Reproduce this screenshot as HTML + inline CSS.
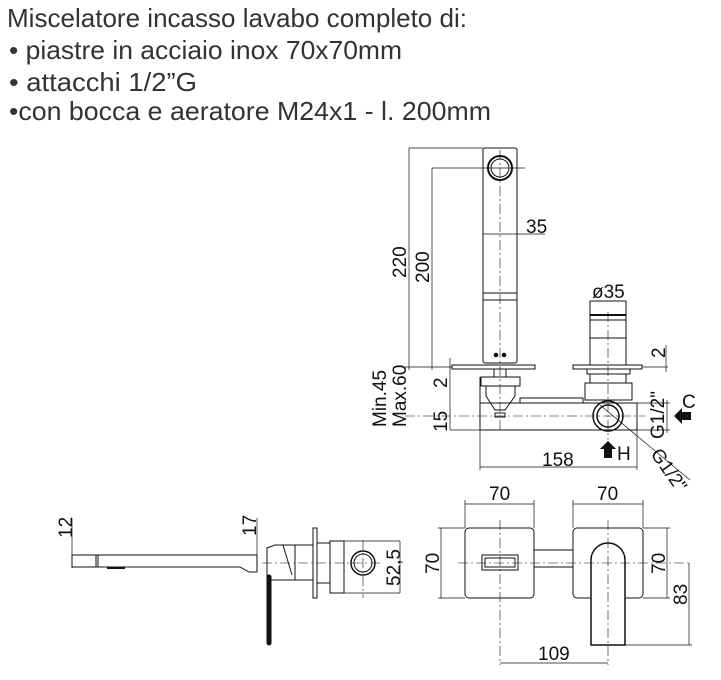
<!DOCTYPE html>
<html><head><meta charset="utf-8"><style>
body{margin:0;background:#fff;width:721px;height:680px;overflow:hidden}
svg{position:absolute;left:0;top:0}
.t{font-family:"Liberation Sans",sans-serif;font-size:26px;fill:#333}
.d{font-family:"Liberation Sans",sans-serif;font-size:19px;fill:#111}
</style></head><body>
<svg width="721" height="680" viewBox="0 0 721 680">
<text class="t" x="7" y="27" textLength="460" lengthAdjust="spacingAndGlyphs">Miscelatore incasso lavabo completo di:</text>
<text class="t" x="9" y="59" textLength="393" lengthAdjust="spacingAndGlyphs">• piastre in acciaio inox 70x70mm</text>
<text class="t" x="9" y="91" textLength="188" lengthAdjust="spacingAndGlyphs">• attacchi 1/2”G</text>
<text class="t" x="9" y="120" textLength="482" lengthAdjust="spacingAndGlyphs">•con bocca e aeratore M24x1 - l. 200mm</text>

<g stroke="#111" stroke-width="1" fill="none">
<rect x="483" y="148" width="34" height="215" rx="2"/>
<circle cx="500" cy="168" r="12" stroke-width="2"/>
<circle cx="500" cy="168" r="9"/>
<line x1="483" y1="293" x2="517" y2="293"/><line x1="483" y1="300" x2="517" y2="300"/>
<circle cx="496" cy="355" r="1.8" fill="#111"/><circle cx="504" cy="355" r="1.8" fill="#111"/>
<line x1="409" y1="148" x2="483" y2="148" stroke-width=".7"/>
<line x1="409" y1="148" x2="409" y2="370" stroke-width=".7"/>
<line x1="432" y1="168" x2="525" y2="168" stroke-width=".7"/>
<line x1="432" y1="168" x2="432" y2="370" stroke-width=".7"/>
<line x1="483" y1="234" x2="545" y2="234" stroke-width=".7"/>
<line x1="500" y1="150" x2="500" y2="430" stroke-width=".6" stroke-dasharray="10 3 2 3"/>
<line x1="405" y1="367" x2="452" y2="367" stroke-width=".7"/>
<rect x="452" y="365" width="83" height="4"/>
<rect x="573" y="365" width="69" height="4"/>
<line x1="642" y1="367" x2="668" y2="367" stroke-width=".7"/>
<line x1="450" y1="358" x2="450" y2="430" stroke-width=".7"/>
<line x1="666" y1="345" x2="666" y2="372" stroke-width=".7"/>
<rect x="494" y="369" width="12" height="8"/>
<rect x="481" y="377" width="39" height="9"/>
<path d="M486 386 L486 396 L495 410 L505 410 L515 396 L515 386"/>
<rect x="520" y="398" width="63" height="5"/>
<rect x="590" y="301" width="36" height="64"/>
<line x1="590" y1="315" x2="626" y2="315" stroke-width="2"/>
<line x1="590" y1="320" x2="626" y2="320"/>
<line x1="590" y1="338" x2="626" y2="338"/>
<line x1="590" y1="301" x2="626" y2="301" stroke-width=".7"/>
<line x1="608" y1="312" x2="608" y2="440" stroke-width=".6" stroke-dasharray="10 3 2 3"/>
<rect x="587" y="369" width="43" height="5"/>
<rect x="590" y="374" width="36" height="9"/>
<rect x="585" y="383" width="47" height="17"/>
<path d="M480 377 L480 430 L637 430 L637 403 L480 403"/>
<line x1="480" y1="403" x2="637" y2="403"/>
<line x1="405" y1="416" x2="645" y2="416" stroke-width=".6" stroke-dasharray="10 3 2 3"/>
<rect x="495" y="413" width="10" height="4"/>
<circle cx="608" cy="416" r="15" stroke-width="1.5"/>
<circle cx="608" cy="416" r="11" stroke-width="1.5"/>
<line x1="600" y1="405" x2="690" y2="480" stroke-width=".7"/>
<line x1="637" y1="403" x2="670" y2="403" stroke-width=".7"/>
<line x1="637" y1="430" x2="670" y2="430" stroke-width=".7"/>
<line x1="667" y1="400" x2="667" y2="433" stroke-width=".7"/>
<line x1="450" y1="430" x2="480" y2="430" stroke-width=".7"/>
<line x1="480" y1="430" x2="480" y2="470" stroke-width=".7"/>
<line x1="637" y1="430" x2="637" y2="470" stroke-width=".7"/>
<line x1="480" y1="467" x2="637" y2="467" stroke-width=".7"/>
</g>
<path d="M674 416 L682 408 L682 412 L691 412 L691 420 L682 420 L682 424 Z" fill="#111"/>
<path d="M608 441 L600 449 L604 449 L604 458 L612 458 L612 449 L616 449 Z" fill="#111"/>
<g class="d">
<text x="526" y="233">35</text>
<text x="592" y="298">ø35</text>
<text transform="translate(406,278) rotate(-90)">220</text>
<text transform="translate(429,283) rotate(-90)">200</text>
<text transform="translate(447,388) rotate(-90)">2</text>
<text transform="translate(665,358) rotate(-90)">2</text>
<text transform="translate(386,427) rotate(-90)">Min.45</text>
<text transform="translate(406,427) rotate(-90)">Max.60</text>
<text transform="translate(447,432) rotate(-90)">15</text>
<text transform="translate(664,439) rotate(-90)">G1/2"</text>
<text x="682" y="408">C</text>
<text x="617" y="460">H</text>
<text transform="translate(650,454) rotate(55)">G1/2"</text>
<text x="542" y="466">158</text>
</g>

<g stroke="#111" stroke-width="1" fill="none">
<path d="M72 555 L257 555 L257 572 L249 572 L240 567 L72 567 Z"/>
<line x1="96" y1="555" x2="96" y2="567"/><line x1="98" y1="555" x2="98" y2="567"/>
<line x1="107" y1="568" x2="125" y2="568" stroke-width="2"/>
<line x1="72" y1="518" x2="72" y2="568" stroke-width=".7"/>
<line x1="257" y1="518" x2="257" y2="572" stroke-width=".7"/>
<path d="M267 548 L275 545 L295 545 L295 580 L267 580 Z"/>
<line x1="283" y1="545" x2="292" y2="575"/>
<rect x="267" y="575" width="4" height="70" rx="2" fill="#111"/>
<rect x="295" y="545" width="18" height="35"/>
<rect x="313" y="528" width="4" height="70"/>
<rect x="317" y="543" width="13" height="40"/>
<rect x="330" y="541" width="14" height="52"/>
<circle cx="363" cy="563" r="12" stroke-width="1.5"/>
<circle cx="363" cy="563" r="9"/>
<path d="M344 541 L400 541 M344 593 L400 593 M400 541 L400 593" stroke-width=".7"/>
<line x1="262" y1="563" x2="380" y2="563" stroke-width=".6" stroke-dasharray="10 3 2 3"/>
<line x1="363" y1="540" x2="363" y2="598" stroke-width=".6" stroke-dasharray="10 3 2 3"/>
</g>
<g class="d">
<text transform="translate(72,538) rotate(-90)">12</text>
<text transform="translate(256,536) rotate(-90)">17</text>
<text transform="translate(400,586) rotate(-90)">52,5</text>
</g>

<g stroke="#111" stroke-width="1" fill="none">
<rect x="465" y="528" width="69" height="70" rx="4"/>
<rect x="573" y="528" width="70" height="70" rx="4"/>
<rect x="534" y="550" width="39" height="17"/>
<rect x="482" y="555" width="36" height="15"/>
<rect x="485" y="558" width="30" height="9"/>
<path d="M591 645 L591 560 A17 17 0 0 1 625 560 L625 645 Z" stroke-width="1.5" fill="#fff"/>
<line x1="458" y1="563" x2="692" y2="563" stroke-width=".6" stroke-dasharray="10 3 2 3"/>
<line x1="500" y1="520" x2="500" y2="665" stroke-width=".6" stroke-dasharray="10 3 2 3"/>
<line x1="608" y1="520" x2="608" y2="665" stroke-width=".6" stroke-dasharray="10 3 2 3"/>
<g stroke-width=".7">
<line x1="465" y1="500" x2="465" y2="528"/><line x1="534" y1="500" x2="534" y2="528"/>
<line x1="465" y1="504" x2="534" y2="504"/>
<line x1="573" y1="500" x2="573" y2="528"/><line x1="643" y1="500" x2="643" y2="528"/>
<line x1="573" y1="504" x2="643" y2="504"/>
<line x1="438" y1="528" x2="465" y2="528"/><line x1="438" y1="598" x2="465" y2="598"/>
<line x1="441" y1="528" x2="441" y2="598"/>
<line x1="643" y1="528" x2="670" y2="528"/><line x1="643" y1="598" x2="670" y2="598"/>
<line x1="667" y1="528" x2="667" y2="598"/>
<line x1="625" y1="645" x2="692" y2="645"/>
<line x1="689" y1="563" x2="689" y2="645"/>
<line x1="500" y1="663" x2="608" y2="663"/>
</g>
</g>
<g class="d">
<text x="489" y="500">70</text>
<text x="597" y="500">70</text>
<text transform="translate(439,574) rotate(-90)">70</text>
<text transform="translate(665,574) rotate(-90)">70</text>
<text transform="translate(687,605) rotate(-90)">83</text>
<text x="538" y="660">109</text>
</g>
</svg>
</body></html>
